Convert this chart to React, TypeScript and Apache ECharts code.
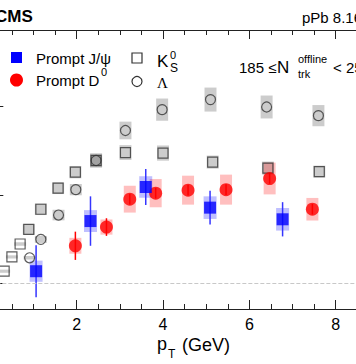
import React, { useEffect, useRef } from "react";
import * as echarts from "echarts";

// ---- data ----
const ksPt = [0.32, 0.5, 0.69, 0.89, 1.17, 1.57, 1.97, 2.45, 3.13, 4.0, 5.15, 6.43, 7.62];
const ksV2 = [0.0068, 0.0149, 0.0222, 0.0305, 0.0419, 0.0538, 0.0629, 0.0695, 0.074, 0.0737, 0.0686, 0.0652, 0.0632];
const ksSys = [0.0009, 0.0009, 0.001, 0.003, 0.0033, 0.0033, 0.0035, 0.0038, 0.0042, 0.0043, 0.0037, 0.0037, 0.0034];

const lamPt = [0.91, 1.17, 1.58, 1.98, 2.45, 3.13, 3.98, 5.1, 6.4, 7.6];
const lamV2 = [0.0144, 0.0248, 0.0386, 0.053, 0.0695, 0.0865, 0.0983, 0.104, 0.0998, 0.0949];
const lamSys = [0.001, 0.002, 0.003, 0.0032, 0.004, 0.005, 0.0063, 0.0068, 0.0065, 0.006];

const jpsiPt = [1.06, 2.32, 3.6, 5.09, 6.77];
const jpsiV2 = [0.0068, 0.0352, 0.0545, 0.0428, 0.0362];
const jpsiStat = [0.0147, 0.014, 0.0102, 0.0095, 0.0097];
const jpsiSys = [0.006, 0.0062, 0.0061, 0.0064, 0.0064];

const d0Pt = [1.97, 2.69, 3.23, 3.83, 4.58, 5.46, 6.47, 7.46];
const d0V2 = [0.0212, 0.0318, 0.0476, 0.051, 0.0527, 0.053, 0.0593, 0.0419];
const d0Stat = [0.008, 0.005, 0.003, 0.003, 0.003, 0.003, 0.003, 0.003];
const d0Sys = [0.0045, 0.0043, 0.0076, 0.008, 0.0082, 0.0085, 0.009, 0.0064];

const yTicks = [0, 0.05, 0.1];

const OX = 60; // inner chart offset (chart div is shifted left by this)
const FONT = "'Liberation Sans', Arial, Helvetica, sans-serif";

function boxSeries(pt: number[], v: number[], e: number[], w: number, color: string, z: number) {
  return {
    type: "custom",
    coordinateSystem: "cartesian2d",
    silent: true,
    z,
    data: pt.map((p, i) => [p, v[i], e[i]]),
    encode: { x: 0, y: 1 },
    renderItem: (_p: any, api: any) => {
      const x = api.value(0), y = api.value(1), s = api.value(2);
      const a = api.coord([x, y + s]);
      const b = api.coord([x, y - s]);
      return {
        type: "rect",
        shape: { x: a[0] - w / 2, y: a[1], width: w, height: b[1] - a[1] },
        style: { fill: color },
      };
    },
  };
}

function barSeries(pt: number[], v: number[], e: number[], color: string, z: number) {
  return {
    type: "custom",
    coordinateSystem: "cartesian2d",
    silent: true,
    z,
    data: pt.map((p, i) => [p, v[i], e[i]]),
    encode: { x: 0, y: 1 },
    renderItem: (_p: any, api: any) => {
      const x = api.value(0), y = api.value(1), s = api.value(2);
      const a = api.coord([x, y + s]);
      const b = api.coord([x, y - s]);
      return {
        type: "line",
        shape: { x1: a[0], y1: a[1], x2: b[0], y2: b[1] },
        style: { stroke: color, lineWidth: 1.5 },
      };
    },
  };
}

function txt(x: number, y: number, text: string, size: number, extra: any = {}) {
  return {
    type: "text",
    x: x + OX,
    y,
    silent: true,
    style: {
      text,
      fontSize: size,
      fontFamily: FONT,
      fill: "#000",
      textVerticalAlign: "middle",
      verticalAlign: "middle",
      align: "left",
      ...extra,
    },
  };
}

export default function App() {
  const ref = useRef<HTMLDivElement>(null);
  useEffect(() => {
    if (!ref.current) return;
    const chart = echarts.init(ref.current, null, { renderer: "svg" });
    const axisColor = "#222";
    const xCommon = {
      type: "value",
      min: 0,
      max: 9,
      interval: 2,
      axisLine: { show: true, onZero: false, lineStyle: { color: axisColor, width: 1 } },
      axisTick: { show: true, inside: true, length: 9, lineStyle: { color: axisColor } },
      minorTick: { show: true, splitNumber: 4, length: 5, lineStyle: { color: axisColor } },
      splitLine: { show: false },
    };
    const option: any = {
      animation: false,
      backgroundColor: "#fff",
      grid: { left: OX - 9.67, top: 30, bottom: 55, right: 480 - (OX - 9.67) - 9 * 43.17, containLabel: false },
      xAxis: [
        {
          ...xCommon,
          position: "bottom",
          axisLabel: {
            show: true,
            color: "#000",
            fontSize: 16,
            fontFamily: FONT,
            margin: 7,
            formatter: (v: number) => (v === 0 ? "" : String(v)),
          },
        },
        { ...xCommon, position: "top", axisLabel: { show: false } },
      ],
      yAxis: {
        type: "value",
        min: -0.0146,
        max: 0.1434,
        axisLine: { show: true, onZero: false, lineStyle: { color: axisColor } },
        axisTick: { show: true, inside: true, length: 13, customValues: yTicks, lineStyle: { color: axisColor } },
        axisLabel: { show: false },
        splitLine: { show: false },
      },
      series: [
        boxSeries(ksPt, ksV2, ksSys, 12, "rgba(0,0,0,0.2)", 1),
        boxSeries(lamPt, lamV2, lamSys, 12, "rgba(0,0,0,0.2)", 1),
        boxSeries(d0Pt, d0V2, d0Sys, 12, "rgba(255,0,0,0.25)", 2),
        boxSeries(jpsiPt, jpsiV2, jpsiSys, 13, "rgba(0,0,255,0.25)", 2),
        barSeries(d0Pt, d0V2, d0Stat, "#ff0000", 3),
        barSeries(jpsiPt, jpsiV2, jpsiStat, "#3535ff", 3),
        {
          type: "scatter",
          name: "K0S",
          z: 4,
          symbol: "rect",
          symbolSize: 10,
          silent: true,
          data: ksPt.map((p, i) => [p, ksV2[i]]),
          itemStyle: { color: "rgba(0,0,0,0)", borderColor: "#333", borderWidth: 1.2 },
          markLine: {
            silent: true,
            symbol: "none",
            label: { show: false },
            lineStyle: { color: "#c8c8c8", type: "dashed", width: 1 },
            data: [{ yAxis: 0 }],
          },
        },
        {
          type: "scatter",
          name: "Lambda",
          z: 4,
          symbol: "circle",
          symbolSize: 10,
          silent: true,
          data: lamPt.map((p, i) => [p, lamV2[i]]),
          itemStyle: { color: "rgba(0,0,0,0)", borderColor: "#333", borderWidth: 1.2 },
        },
        {
          type: "scatter",
          name: "Prompt D0",
          z: 5,
          symbol: "circle",
          symbolSize: 13,
          silent: true,
          data: d0Pt.map((p, i) => [p, d0V2[i]]),
          itemStyle: { color: "#ff0000" },
        },
        {
          type: "scatter",
          name: "Prompt J/psi",
          z: 5,
          symbol: "rect",
          symbolSize: 12,
          silent: true,
          data: jpsiPt.map((p, i) => [p, jpsiV2[i]]),
          itemStyle: { color: "#0000ff" },
        },
      ],
      graphic: [
        txt(-5, 16, "CMS", 17, { fontWeight: "bold" }),
        txt(302, 17, "pPb 8.16 TeV", 15),
        // legend
        { type: "rect", x: 11 + OX, y: 52, shape: { x: 0, y: 0, width: 11, height: 11 }, style: { fill: "#0000ff" }, silent: true },
        txt(36, 58, "Prompt J/\u03c8", 15),
        { type: "circle", x: 16.5 + OX, y: 80, shape: { cx: 0, cy: 0, r: 6.5 }, style: { fill: "#ff0000" }, silent: true },
        txt(36, 80, "Prompt D", 15),
        txt(101, 72, "0", 11),
        { type: "rect", x: 132 + OX, y: 53, shape: { x: 0, y: 0, width: 10, height: 10 }, style: { fill: "none", stroke: "#333", lineWidth: 1.2 }, silent: true },
        txt(157, 61.5, "K", 17),
        txt(170, 55, "0", 11),
        txt(170, 68, "S", 12),
        { type: "circle", x: 137 + OX, y: 81.5, shape: { cx: 0, cy: 0, r: 5 }, style: { fill: "none", stroke: "#333", lineWidth: 1.2 }, silent: true },
        txt(157, 82.5, "\u039b", 15, { fontFamily: "'Liberation Serif', 'Times New Roman', serif" }),
        // multiplicity range
        txt(239, 67, "185 \u2264", 15),
        txt(277, 67, "N", 17),
        txt(298, 59, "offline", 11),
        txt(298, 74, "trk", 11),
        txt(333, 67, "< 250", 15),
        // x-axis title
        txt(157, 344, "p", 18),
        txt(168, 354, "T", 12),
        txt(182, 345, "(GeV)", 18),
      ],
    };
    chart.setOption(option);
    return () => chart.dispose();
  }, []);
  return (
    <div style={{ position: "fixed", left: 0, top: 0, width: 356, height: 364, overflow: "hidden", background: "#fff" }}>
      <div ref={ref} style={{ position: "absolute", left: -OX, top: 0, width: 480, height: 364 }} />
    </div>
  );
}
